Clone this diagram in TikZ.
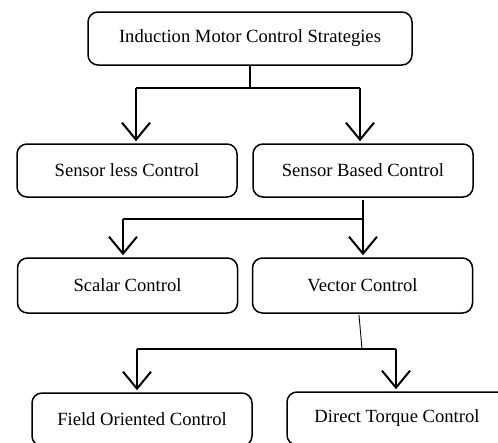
\documentclass[tikz,border=0pt]{standalone}
\usepackage{fontspec}
\setmainfont{Liberation Serif}
\usetikzlibrary{arrows.meta}
\tikzset{
  stratbox/.style={draw, line width=1.5pt, rounded corners=10pt, minimum width=220pt, minimum height=53pt, inner sep=0pt, font=\fontsize{18.6}{22}\selectfont},
  link/.style={line width=2pt},
  branch/.style={line width=2pt, -{Straight Barb[length=17pt,width=28pt]}, shorten >=2pt}
}

\begin{document}
\begin{tikzpicture}[x=1pt,y=-1pt]
			%%%%% START %%%%%
			\clip (0,0) rectangle (498,442);
			
			\node[stratbox, minimum width=324pt] (imcs) at (250, 38.5) {Induction Motor Control Strategies};
			
			\node[stratbox] (sensorless) at (127, 170.5) {Sensor less Control};
			\node[stratbox] (sensorbased) at (363, 170.5) {Sensor Based Control};
			
			\node[stratbox, minimum height=55pt] (scalar) at (127.5, 285.5) {Scalar Control};
			\node[stratbox, minimum height=55pt] (vector) at (362.5, 285.5) {Vector Control};
			
			\node[stratbox] (foc) at (142, 419.5) {Field Oriented Control};
			\node[stratbox] (dtc) at (397, 418.5) {Direct Torque Control};
			
			% first level
			\coordinate (j1) at (250, 88);
			\coordinate (j1l) at (136, 88);
			\coordinate (j1r) at (360, 88);
			\draw[link] (imcs.south) -- (j1);
			\draw[link] (j1l) -- (j1r);
			\draw[branch] (j1l) -- (j1l |- sensorless.north);
			\draw[branch] (j1r) -- (j1r |- sensorbased.north);
			
			% second level
			\coordinate (j2t) at (363, 200);
			\coordinate (j2) at (363, 219);
			\coordinate (j2l) at (123, 219);
			\draw[link] (j2t) -- (j2) -- (j2l);
			\draw[branch] (j2l) -- (j2l |- scalar.north);
			\draw[branch] (j2) -- (j2 |- vector.north);
			
			% third level
			\coordinate (j3t) at (359, 315);
			\coordinate (j3) at (362, 349);
			\coordinate (j3l) at (137, 349);
			\coordinate (j3r) at (396, 349);
			\draw[line width=0.9pt] (j3t) -- (j3);
			\draw[link] (j3l) -- (j3r);
			\draw[branch] (j3l) -- (j3l |- foc.north);
			\draw[branch] (j3r) -- (j3r |- dtc.north);
			%%%%% END %%%%%
		\end{tikzpicture}
\end{document}
